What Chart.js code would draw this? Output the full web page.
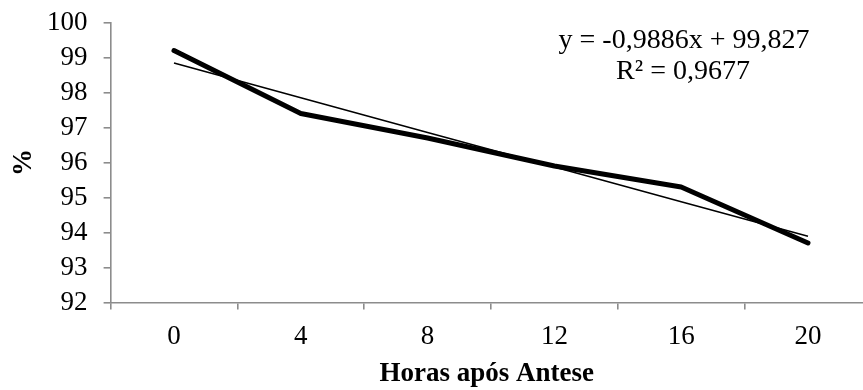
<!DOCTYPE html>
<html>
<head>
<meta charset="utf-8">
<script src="https://cdn.jsdelivr.net/npm/chart.js@4"></script>
<style>
  body { margin: 0; background: #fff; }
  #wrap { width: 863px; height: 390px; position: relative; }
</style>
</head>
<body>
<div id="wrap"><canvas id="germChart"></canvas></div>
<script>
var categories = ["0", "4", "8", "12", "16", "20"];
var values = [99.2, 97.4, 96.7, 95.9, 95.3, 93.7];
// linear trend (Excel trendline)
var trendValues = [98.84, 97.85, 96.86, 95.87, 94.88, 93.89];
var equationLines = ["y = -0,9886x + 99,827", "R\u00b2 = 0,9677"];
var yTicks = [92, 93, 94, 95, 96, 97, 98, 99, 100];

var serif = "'Liberation Serif', 'Times New Roman', serif";
var axisGray = "#8c8c8c";

function points(arr) {
  return arr.map(function (v, i) {
    return { x: i, y: v };
  });
}

// draws the trendline equation in the upper right, like Excel does
var equationPlugin = {
  id: "equation",
  afterDraw: function (chart) {
    var ctx = chart.ctx;
    ctx.save();
    ctx.fillStyle = "#000";
    ctx.font = "28px " + serif;
    ctx.textAlign = "center";
    ctx.textBaseline = "middle";
    ctx.fillText(equationLines[0], 684, 41);
    ctx.fillText(equationLines[1], 683, 72);
    ctx.restore();
  },
};

document.addEventListener("DOMContentLoaded", function () {
  var ctx = document.getElementById("germChart").getContext("2d");

  new Chart(ctx, {
    type: "line",
    data: {
      datasets: [
        {
          label: "Linear",
          data: points(trendValues),
          borderColor: "#000",
          borderWidth: 1.6,
          pointRadius: 0,
          tension: 0,
        },
        {
          label: "%",
          data: points(values),
          borderColor: "#000",
          borderWidth: 5,
          borderCapStyle: "round",
          borderJoinStyle: "round",
          pointRadius: 0,
          tension: 0,
        },
      ],
    },
    options: {
      responsive: true,
      maintainAspectRatio: false,
      animation: false,
      layout: { padding: { top: 22.5, right: 0, left: 0, bottom: 0 } },
      plugins: {
        legend: { display: false },
        tooltip: { enabled: false },
      },
      scales: {
        x: {
          type: "linear",
          min: -0.5,
          max: 5.434,
          afterBuildTicks: function (scale) {
            var t = [];
            for (var v = -0.5; v <= 5; v += 0.5) t.push({ value: v });
            scale.ticks = t;
          },
          afterFit: function (scale) {
            scale.height = 87.5;
            scale.paddingLeft = 0;
            scale.paddingRight = 0;
          },
          border: { color: axisGray, width: 1.6 },
          grid: {
            drawOnChartArea: false,
            tickLength: 7,
            lineWidth: 1.6,
            color: function (c) {
              return c.tick && Number.isInteger(c.tick.value) ? "rgba(0,0,0,0)" : axisGray;
            },
          },
          ticks: {
            autoSkip: false,
            maxRotation: 0,
            padding: 11,
            color: "#000",
            font: { family: serif, size: 27 },
            callback: function (value) {
              return Number.isInteger(value) ? categories[value] : "";
            },
          },
          title: {
            display: true,
            text: "Horas após Antese",
            color: "#000",
            font: { family: serif, size: 27, weight: "bold" },
            padding: { top: 5, bottom: 0 },
          },
        },
        y: {
          min: 92,
          max: 100,
          afterBuildTicks: function (scale) {
            scale.ticks = yTicks.map(function (v) {
              return { value: v };
            });
          },
          afterFit: function (scale) {
            scale.width = 110.6;
            scale.paddingTop = 0;
            scale.paddingBottom = 0;
          },
          border: { color: axisGray, width: 1.6 },
          grid: {
            drawOnChartArea: false,
            tickLength: 7,
            lineWidth: 1.6,
            color: axisGray,
          },
          ticks: {
            autoSkip: false,
            padding: 16,
            color: "#000",
            font: { family: serif, size: 27 },
          },
          title: {
            display: true,
            text: "%",
            color: "#000",
            font: { family: serif, size: 27, weight: "bold" },
            padding: { top: 8, bottom: 0 },
          },
        },
      },
    },
    plugins: [equationPlugin],
  });
});
</script>
</body>
</html>
